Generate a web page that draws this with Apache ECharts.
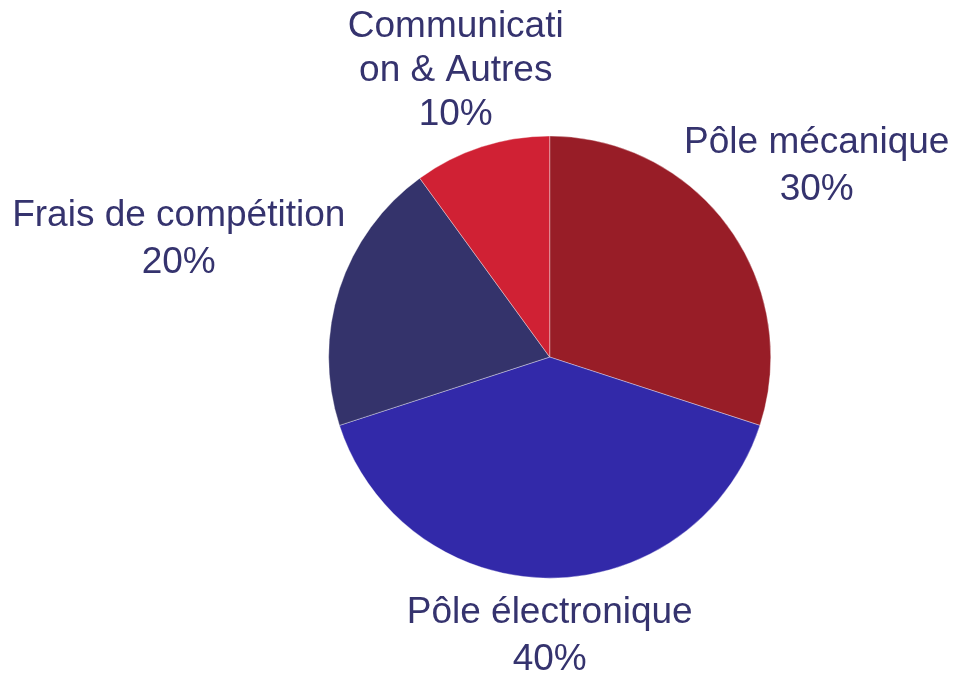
<!DOCTYPE html>
<html>
<head>
<meta charset="utf-8">
<script src="https://cdn.jsdelivr.net/npm/echarts@6/dist/echarts.min.js"></script>
<style>
  html, body { margin: 0; padding: 0; background: #fff; }
  #main { width: 956px; height: 675px; }
</style>
</head>
<body>
<div id="main"></div>
<script>
// budget split (percent)
const categories = ["Pôle mécanique", "Pôle électronique", "Frais de compétition", "Communication & Autres"];
const values = [30, 40, 20, 10];
const colors = ["#981d27", "#3229a9", "#34336b", "#d02134"];
// how far each label sits beyond the rim, px
const labelGap = [109, 55, 169, 83];

const centerPct = [0.575, 0.529];
const radiusPct = 0.655;

const chart = echarts.init(document.getElementById("main"));
const total = values.reduce((a, b) => a + b, 0);

const placeLabel = (params) => {
  const i = params.dataIndex;
  const w = chart.getWidth();
  const h = chart.getHeight();
  const cx = w * centerPct[0];
  const cy = h * centerPct[1];
  const r = (radiusPct * Math.min(w, h)) / 2;
  let before = 0;
  for (let k = 0; k < i; k++) before += values[k];
  const a = ((90 - (360 * (before + values[i] / 2)) / total) * Math.PI) / 180;
  const d = r + labelGap[i];
  return {
    x: cx + Math.cos(a) * d,
    y: cy - Math.sin(a) * d + 3,
    align: "center",
    verticalAlign: "middle",
  };
};

const option = {
  animation: false,
  series: [
    {
      type: "pie",
      center: [centerPct[0] * 100 + "%", centerPct[1] * 100 + "%"],
      radius: radiusPct * 100 + "%",
      startAngle: 90,
      clockwise: true,
      avoidLabelOverlap: false,
      itemStyle: {
        borderColor: "rgba(255,255,255,0.6)",
        borderWidth: 0.6,
      },
      label: {
        show: true,
        position: "outside",
        color: "#35336e",
        fontFamily: "Liberation Sans, Arial, sans-serif",
        fontSize: 37,
        lineHeight: 47,
        align: "center",
        formatter: (p) => p.name + "\n" + Math.round(p.percent) + "%",
      },
      labelLine: { show: false },
      labelLayout: placeLabel,
      data: categories.map((name, i) => {
        const item = { name: name, value: values[i], itemStyle: { color: colors[i] } };
        if (i === 3) {
          item.label = { width: 226, overflow: "breakAll", lineHeight: 44 };
        }
        return item;
      }),
    },
  ],
};
chart.setOption(option);
</script>
</body>
</html>
